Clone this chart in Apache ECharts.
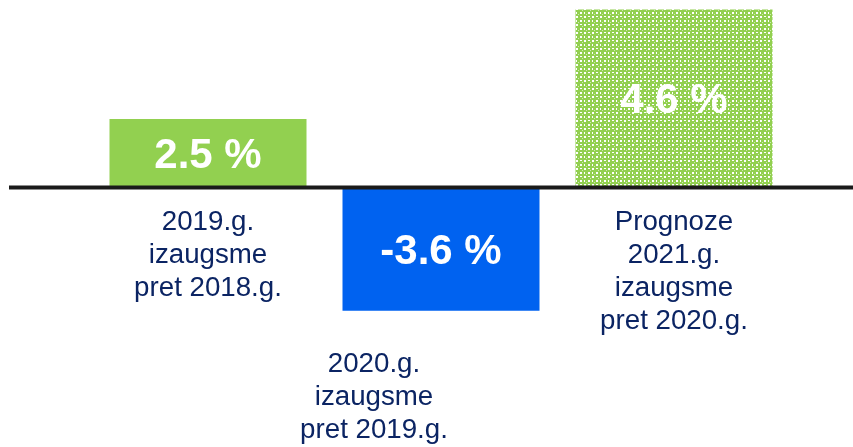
<!DOCTYPE html>
<html>
<head>
<meta charset="utf-8">
<script src="https://cdn.jsdelivr.net/npm/echarts@6/dist/echarts.min.js"></script>
<style>
  html, body { margin: 0; padding: 0; background: #fff; }
  #chart { width: 853px; height: 447px; }
</style>
</head>
<body>
<div id="chart"></div>
<script>
// kategorijas (teksts zem stabiņiem)
const categories = [
  '2019.g.\nizaugsme\npret 2018.g.',
  '2020.g.\nizaugsme\npret 2019.g.',
  'Prognoze\n2021.g.\nizaugsme\npret 2020.g.'
]
// izaugsme, kas rakstīta uz stabiņiem
const growth = [2.5, -3.6, 4.6]
// stabiņu garums, kā tas nolasāms attēlā (nav proporcionāls vērtībām)
const barHeights = [2.5, -4.5, 6.5]

// teksta novietojums zem stabiņa
const labelGap = [18.5, 37.5, 18.5]
const labelShift = [0, -67, 0]

// rūtains raksts prognozes stabiņam
const makePattern = () => {
  const c = document.createElement('canvas')
  c.width = 8
  c.height = 8
  const ctx = c.getContext('2d')
  ctx.fillStyle = '#92d050'
  ctx.fillRect(0, 0, 8, 8)
  ctx.fillStyle = '#ffffff'
  ctx.fillRect(0, 0, 2, 2)
  ctx.fillRect(4, 4, 2, 2)
  ctx.fillRect(4, 0, 2, 1)
  ctx.fillRect(0, 4, 1, 2)
  ctx.fillStyle = '#cfe9b2'
  ctx.fillRect(2, 6, 1, 1)
  ctx.fillRect(6, 2, 1, 1)
  return c
}

const colors = ['#92d050', '#0062f0', { image: makePattern(), repeat: 'repeat' }]

const chart = echarts.init(document.getElementById('chart'))

chart.setOption({
  animation: false,
  grid: { left: 91.5, right: 62.5, top: 9.4, bottom: 122.5 },
  xAxis: {
    type: 'category',
    data: categories,
    axisLine: { show: false },
    axisTick: { show: false },
    axisLabel: { show: false }
  },
  yAxis: {
    type: 'value',
    min: -5,
    max: 6.5,
    show: false
  },
  series: [
    {
      type: 'bar',
      barWidth: 197,
      data: barHeights.map((v, i) => ({ value: v, itemStyle: { color: colors[i] } })),
      label: {
        show: true,
        position: 'inside',
        offset: [0, 3],
        formatter: p => growth[p.dataIndex].toFixed(1) + ' %',
        color: '#fff',
        fontSize: 42,
        fontWeight: 'bold',
        fontFamily: 'Liberation Sans, Arial, sans-serif'
      }
    }
  ]
})

// nulles līnija un teksti zem stabiņiem
const zeroY = chart.convertToPixel({ seriesIndex: 0 }, [0, 0])[1]
const graphics = [
  {
    type: 'line',
    shape: { x1: 9, y1: zeroY, x2: 853, y2: zeroY },
    style: { stroke: '#1a1a1a', lineWidth: 4 },
    z: 10
  }
]
categories.forEach((name, i) => {
  const [x, y] = chart.convertToPixel({ seriesIndex: 0 }, [i, barHeights[i]])
  graphics.push({
    type: 'text',
    x: x + labelShift[i],
    y: Math.max(y, zeroY) + labelGap[i],
    style: {
      text: name,
      fill: '#0b2463',
      fontSize: 27.7,
      lineHeight: 33,
      fontFamily: 'Liberation Sans, Arial, sans-serif',
      align: 'center',
      verticalAlign: 'top'
    }
  })
})
chart.setOption({ graphic: graphics })
</script>
</body>
</html>
